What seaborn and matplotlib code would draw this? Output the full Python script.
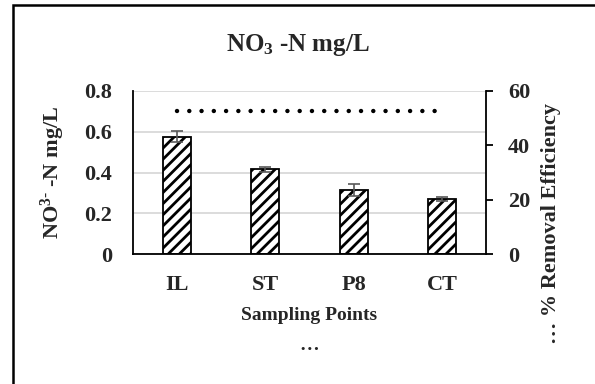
import numpy as np
import pandas as pd
import matplotlib
matplotlib.use("Agg")
import matplotlib.pyplot as plt
from matplotlib.patches import Rectangle
import seaborn as sns

# data
points = ["IL", "ST", "P8", "CT"]
no3 = [0.575, 0.415, 0.315, 0.272]
no3_err = [0.027, 0.012, 0.028, 0.010]
removal = [52.5, 52.5, 52.5, 52.5]
left_ticks = [0, 0.2, 0.4, 0.6, 0.8]
left_labels = ["0", "0.2", "0.4", "0.6", "0.8"]
right_ticks = [0, 20, 40, 60]

sns.set_style("white")
plt.rcParams['font.family'] = ['Liberation Serif', 'DejaVu Serif']
plt.rcParams['font.weight'] = 'bold'
plt.rcParams['mathtext.fontset'] = 'custom'
plt.rcParams['mathtext.rm'] = 'Liberation Serif:bold'
plt.rcParams['mathtext.bf'] = 'Liberation Serif:bold'
plt.rcParams['mathtext.it'] = 'Liberation Serif:bold:italic'
plt.rcParams['hatch.linewidth'] = 2.0

df = pd.DataFrame({"point": points, "no3": no3, "err": no3_err})

fig = plt.figure(figsize=(5.95, 3.84), dpi=100)
W, H = 595, 384
ax = fig.add_axes([133/W, 1-254/H, (486-133)/W, (254-91)/H])

sns.barplot(data=df, x="point", y="no3", ax=ax, color="white", width=0.32,
            edgecolor="black", linewidth=1.3, hatch="///", errorbar=None)
ax.errorbar(np.arange(len(points)), no3, yerr=no3_err, fmt="none",
            ecolor="#595959", elinewidth=1.2, capsize=4.5, capthick=1.2, zorder=5)

ax.set_xlim(-0.5, 3.5)
ax.set_ylim(0, 0.8)
ax.set_yticks(left_ticks)
ax.set_yticklabels(left_labels)
ax.yaxis.grid(True, color="#d9d9d9", linewidth=1.3)
ax.set_axisbelow(True)
ax.set_xlabel("")
ax.set_ylabel("")
ax.tick_params(axis="y", length=0, pad=15, labelsize=16)
ax.tick_params(axis="x", length=0, pad=15, labelsize=16)
for s in ["left", "bottom"]:
    ax.spines[s].set_color("black")
    ax.spines[s].set_linewidth(1.3)
ax.spines["top"].set_visible(False)
ax.spines["right"].set_visible(False)

ax2 = ax.twinx()
ax2.plot(np.arange(len(points)), removal, color="black", linewidth=3.2,
         linestyle=(0, (0.01, 2.75)), dash_capstyle="round")
ax2.set_ylim(0, 60)
ax2.set_yticks(right_ticks)
ax2.tick_params(axis="y", length=5, width=1.3, pad=11, labelsize=16, color="black")
for s in ["left", "top", "bottom"]:
    ax2.spines[s].set_visible(False)
ax2.spines["right"].set_color("black")
ax2.spines["right"].set_linewidth(1.3)
ax2.grid(False)

fig.text(298/W, 1-45/H, r"NO$_{3}$ -N mg/L", ha="center", va="center",
         fontsize=18, fontweight="bold")
fig.text(53/W, 1-172/H, r"NO$^{3\text{-}}$ -N mg/L", ha="center", va="center",
         rotation=90, fontsize=16, fontweight="bold")
fig.text(309/W, 1-316/H, "Sampling Points", ha="center", va="center",
         fontsize=14, fontweight="bold")
fig.text(309/W, 1-345/H, "\u2026", ha="center", va="center",
         fontsize=14, fontweight="bold")
fig.text(551/W, 1-224/H, "\u2026 % Removal Efficiency", ha="center", va="center",
         rotation=90, fontsize=16, fontweight="bold")

fig.add_artist(Rectangle((13/W, -0.2), 1.5, 1.2 - 5/H, transform=fig.transFigure,
                         fill=False, edgecolor="black", linewidth=1.8))

fig.savefig("out.png", dpi=100)
